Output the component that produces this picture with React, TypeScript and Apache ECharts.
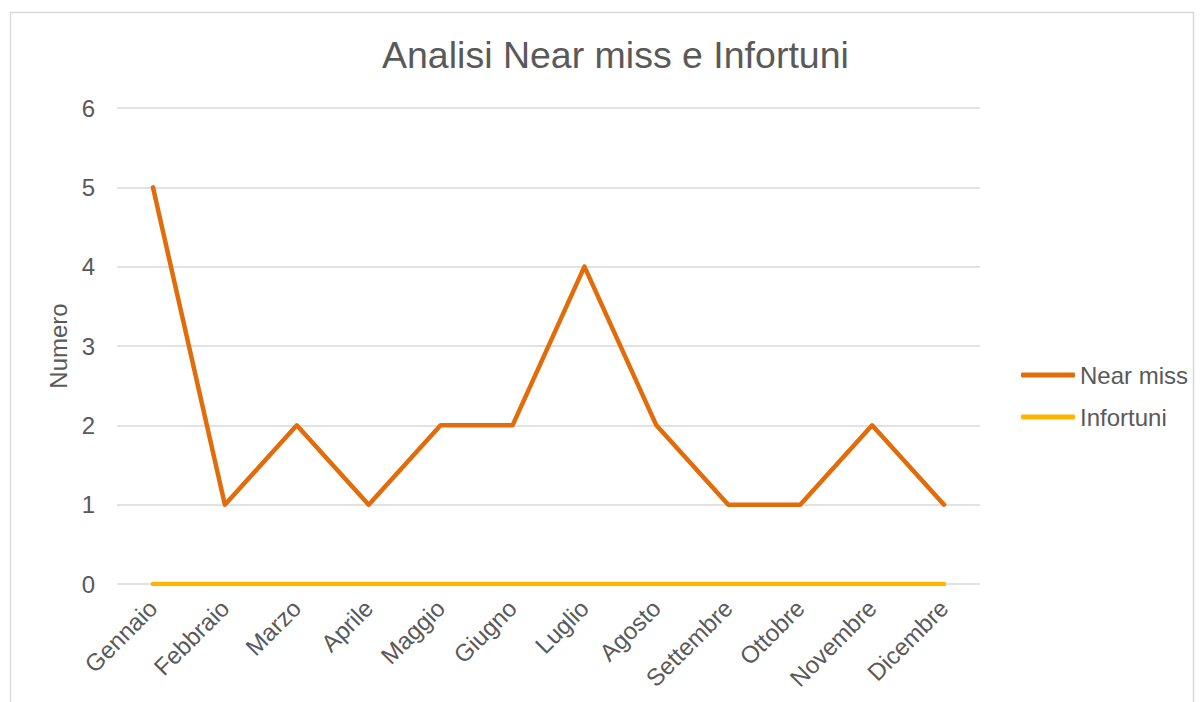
import React, { useEffect, useRef } from "react";
import * as echarts from "echarts";

const months = ["Gennaio", "Febbraio", "Marzo", "Aprile", "Maggio", "Giugno", "Luglio", "Agosto", "Settembre", "Ottobre", "Novembre", "Dicembre"];
const nearMiss = [5, 1, 2, 1, 2, 2, 4, 2, 1, 1, 2, 1];
const infortuni = [0, 0, 0, 0, 0, 0, 0, 0, 0, 0, 0, 0];
const yTicks = [0, 1, 2, 3, 4, 5, 6];

const FONT = "'Liberation Sans', Arial, sans-serif";
const TXT = "#595959";

export default function App() {
  const ref = useRef<HTMLDivElement>(null);
  useEffect(() => {
    const chart = echarts.init(ref.current!, null, { renderer: "svg" });
    chart.setOption({
      animation: false,
      textStyle: { fontFamily: FONT },
      graphic: [
        {
          type: "rect",
          shape: { x: 10.5, y: 12.5, width: 1183, height: 720 },
          style: { fill: "none", stroke: "#D9D9D9", lineWidth: 1.5 },
          silent: true,
        },
      ],
      title: {
        text: "Analisi Near miss e Infortuni",
        left: 377,
        top: 31,
        textStyle: { fontFamily: FONT, fontSize: 37.5, fontWeight: "normal", color: TXT },
      },
      legend: {
        orient: "vertical",
        left: 1016,
        top: 358,
        itemWidth: 54,
        itemHeight: 5,
        itemGap: 18,
        icon: "roundRect",
        textStyle: { fontFamily: FONT, fontSize: 24, color: TXT },
        data: ["Near miss", "Infortuni"],
      },
      grid: { left: 117, right: 220, top: 108, bottom: 118, containLabel: false },
      xAxis: {
        type: "category",
        data: months,
        boundaryGap: true,
        axisLine: { show: false },
        axisTick: { show: false },
        axisLabel: { rotate: 45, fontSize: 24, color: TXT, fontFamily: FONT, margin: 20, interval: 0 },
      },
      yAxis: {
        type: "value",
        min: yTicks[0],
        max: yTicks[yTicks.length - 1],
        interval: 1,
        name: "Numero",
        nameLocation: "middle",
        nameGap: 45,
        nameRotate: 90,
        nameTextStyle: { fontSize: 24, color: TXT, fontFamily: FONT },
        axisLabel: { fontSize: 24, color: TXT, fontFamily: FONT, margin: 22 },
        splitLine: { lineStyle: { color: "#D9D9D9", width: 1.5 } },
        axisLine: { show: false },
        axisTick: { show: false },
      },
      series: [
        {
          name: "Near miss",
          type: "line",
          data: nearMiss,
          symbol: "none",
          lineStyle: { color: "#E36C0A", width: 4.5, cap: "round", join: "round" },
          itemStyle: { color: "#E36C0A" },
        },
        {
          name: "Infortuni",
          type: "line",
          data: infortuni,
          symbol: "none",
          lineStyle: { color: "#FFB500", width: 4.5, cap: "round", join: "round" },
          itemStyle: { color: "#FFB500" },
        },
      ],
    });
    return () => chart.dispose();
  }, []);
  return <div ref={ref} style={{ position: "fixed", left: 0, top: 0, width: 1200, height: 702, background: "#fff" }} />;
}
